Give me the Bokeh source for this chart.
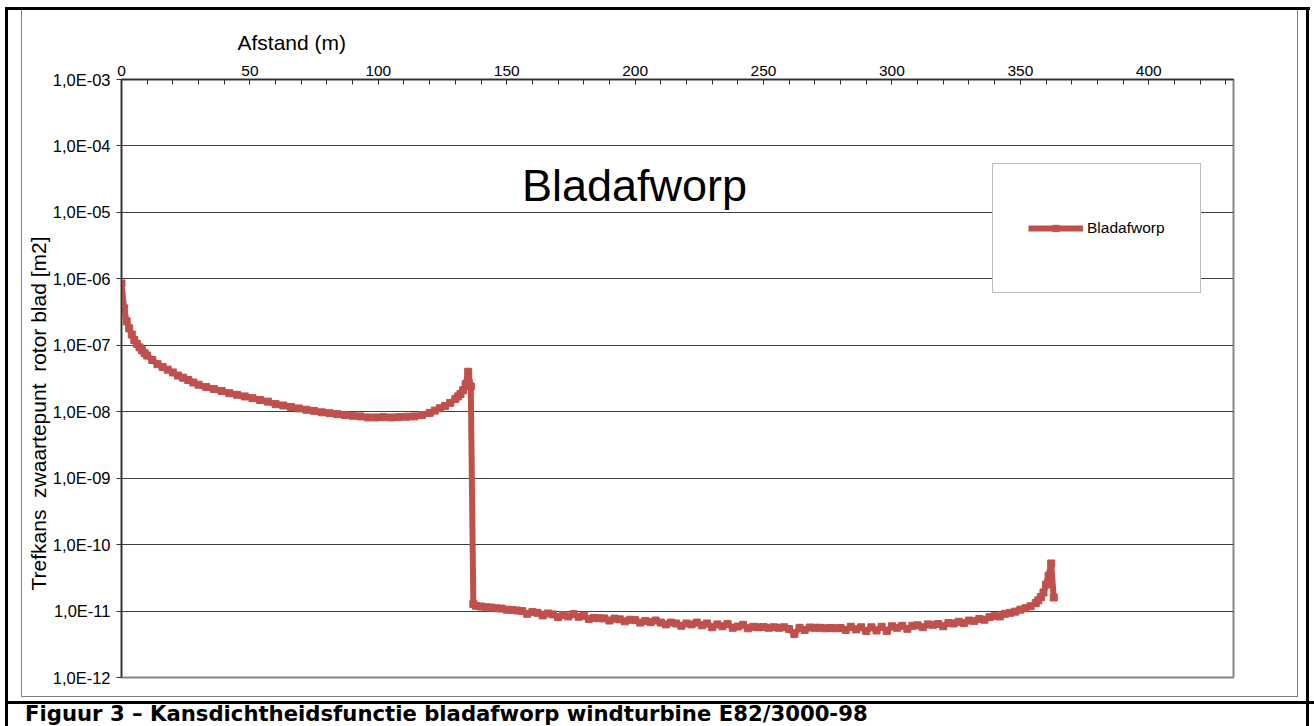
from bokeh.plotting import figure
from bokeh.layouts import column
from bokeh.models import (Range1d, FixedTicker, SingleIntervalTicker, Label, Title, Div,
                          Legend, LegendItem, ColumnDataSource)
from bokeh.embed import file_html
from bokeh.resources import INLINE

# ---------------- data ----------------
afstand = [0, 1, 2, 3, 4, 5, 6, 7, 8, 9, 10, 12, 14, 16, 18, 20, 22, 24, 26, 28, 30,
           33, 36, 39, 42, 45, 48, 51, 54, 57, 60, 63, 66, 69, 72, 75, 78, 81, 84, 87,
           90, 93, 96, 99, 102, 105, 108, 111, 114, 117, 120, 122, 124, 126, 128, 130,
           131, 132, 133, 134, 135, 136,
           137, 138, 140, 142, 144, 146, 148, 150, 152, 154, 156, 158, 160, 162, 164,
           166, 168, 170, 172, 174, 176, 178, 180, 182, 184, 186, 188, 190, 192, 194,
           196, 198, 200, 202, 204, 206, 208, 210, 212, 214, 216, 218, 220, 222, 224,
           226, 228, 230, 232, 234, 236, 238, 240, 242, 244, 246, 248, 250, 252, 254,
           256, 258, 260, 262, 264, 266, 268, 270, 272, 274, 276, 278, 280, 282, 284,
           286, 288, 290, 292, 294, 296, 298, 300, 302, 304, 306, 308, 310, 312, 314,
           316, 318, 320, 322, 324, 326, 328, 330, 332, 334, 336, 338, 340, 342, 344,
           346, 348, 350, 352, 354, 356, 357, 358, 359, 360, 361, 362, 363]

trefkans = [8.5e-7, 3.6e-7, 2.3e-7, 1.8e-7, 1.45e-7, 1.2e-7, 1.05e-7, 9.3e-8, 8.4e-8, 7.6e-8,
            7.0e-8, 6.0e-8, 5.2e-8, 4.7e-8, 4.3e-8, 3.9e-8, 3.5e-8, 3.25e-8, 3.0e-8, 2.75e-8,
            2.55e-8, 2.35e-8, 2.2e-8, 2.05e-8, 1.9e-8, 1.8e-8, 1.7e-8, 1.6e-8, 1.5e-8, 1.42e-8,
            1.3e-8, 1.24e-8, 1.18e-8, 1.12e-8, 1.07e-8, 1.03e-8, 9.8e-9, 9.5e-9, 9.2e-9, 8.9e-9,
            8.7e-9, 8.5e-9, 8.2e-9, 8.2e-9, 8.3e-9, 8.2e-9, 8.3e-9, 8.4e-9, 8.5e-9, 8.9e-9,
            9.6e-9, 1.04e-8, 1.13e-8, 1.22e-8, 1.36e-8, 1.55e-8,
            1.7e-8, 1.85e-8, 2.1e-8, 2.6e-8, 4.0e-8, 2.4e-8,
            1.28e-11, 1.20e-11, 1.17e-11, 1.14e-11, 1.13e-11, 1.10e-11, 1.09e-11, 1.05e-11,
            1.04e-11, 1.02e-11, 1.00e-11, 9.1e-12, 9.7e-12, 9.4e-12, 8.6e-12,
            9.2e-12, 8.9e-12, 8.1e-12, 8.7e-12, 8.3e-12, 9.0e-12, 8.2e-12, 8.5e-12, 7.6e-12,
            7.9e-12, 7.8e-12, 7.75e-12, 7.2e-12, 7.7e-12, 7.5e-12,
            7.0e-12, 7.4e-12, 7.3e-12, 6.7e-12, 7.1e-12, 6.8e-12, 7.2e-12, 6.7e-12, 6.3e-12,
            6.7e-12, 6.5e-12, 6.0e-12, 6.5e-12, 6.3e-12, 6.7e-12,
            6.1e-12, 6.5e-12, 5.7e-12, 6.3e-12, 5.9e-12, 6.4e-12, 5.6e-12, 5.85e-12, 6.2e-12,
            5.5e-12, 5.8e-12, 5.7e-12, 5.75e-12, 5.6e-12, 5.7e-12,
            5.6e-12, 5.7e-12, 5.35e-12, 4.5e-12, 5.6e-12, 5.2e-12, 5.65e-12, 5.6e-12, 5.6e-12,
            5.5e-12, 5.55e-12, 5.5e-12, 5.55e-12, 5.2e-12, 5.8e-12,
            5.3e-12, 5.7e-12, 5.0e-12, 5.7e-12, 5.1e-12, 5.8e-12, 5.0e-12, 5.9e-12, 5.6e-12,
            6.0e-12, 5.4e-12, 6.0e-12, 6.1e-12, 5.7e-12, 6.3e-12,
            6.2e-12, 6.4e-12, 5.9e-12, 6.6e-12, 6.5e-12, 6.9e-12, 6.6e-12, 7.2e-12, 7.1e-12,
            7.6e-12, 7.4e-12, 8.1e-12, 8.4e-12, 8.3e-12, 9.1e-12,
            9.4e-12, 9.8e-12, 1.05e-11, 1.1e-11, 1.18e-11, 1.32e-11, 1.45e-11, 1.62e-11,
            1.9e-11, 2.5e-11, 3.4e-11, 5.2e-11, 1.6e-11]

serie_naam = "Bladafworp"
y_ticks = [1e-12, 1e-11, 1e-10, 1e-9, 1e-8, 1e-7, 1e-6, 1e-5, 1e-4, 1e-3]
y_tick_labels = ["1,0E-12", "1,0E-11", "1,0E-10", "1,0E-09", "1,0E-08",
                 "1,0E-07", "1,0E-06", "1,0E-05", "1,0E-04", "1,0E-03"]

titel = "Bladafworp"
x_titel = "Afstand (m)"
# double spaces as in the original (a no-break space keeps them from collapsing in SVG)
y_titel = "Trefkans\u00a0 zwaartepunt\u00a0 rotor blad [m2]"
bijschrift = "Figuur 3 \u2013 Kansdichtheidsfunctie bladafworp windturbine E82/3000-98"

# ---------------- layout (page pixels; page origin = canvas origin) ----------------
RED = "#C0504D"
FONT = "Liberation Sans"
W = 1314
H_FIG = 701
H_CAP = 726 - H_FIG
FL, FR, FT, FB = 121, 1233, 79, 677   # frame edges


def rect(x, y, w, h, color):
    return ("linear-gradient(%s,%s)" % (color, color), "%gpx %gpx" % (w, h), "%gpx %gpx" % (x, y))


def bg_styles(rects):
    return {"background-image": ", ".join(r[0] for r in rects),
            "background-size": ", ".join(r[1] for r in rects),
            "background-position": ", ".join(r[2] for r in rects),
            "background-repeat": "no-repeat"}


p = figure(width=W, height=H_FIG, output_backend="svg", toolbar_location=None, title=None,
           x_range=Range1d(0, 433), y_range=Range1d(1e-12, 1e-3), y_axis_type="log",
           x_axis_location="above",
           min_border_left=FL, min_border_right=W - FR,
           min_border_top=FT, min_border_bottom=H_FIG - FB)
p.background_fill_color = "white"
p.border_fill_color = None
p.outline_line_color = "#868686"
p.outline_line_width = 2

# document table lines (thick black) and chart-area border (thin grey), behind the canvas
p.styles = bg_styles([
    rect(5, 7, 1305, 3, "#000"),          # top
    rect(5, 7, 3, H_FIG - 7, "#000"),     # left
    rect(1306, 7, 3, H_FIG - 7, "#000"),  # right
    rect(21, 10, 1, 687, "#7f7f7f"),
    rect(1297, 10, 1, 687, "#7f7f7f"),
    rect(21, 696, 1277, 1, "#7f7f7f"),
])

src = ColumnDataSource(dict(x=afstand, y=trefkans))
ln = p.line("x", "y", source=src, line_color=RED, line_width=6, line_join="round")
sc = p.scatter("x", "y", source=src, marker="square", size=7, fill_color=RED, line_color=RED)

# x axis (top)
xa = p.xaxis[0]
xa.ticker = SingleIntervalTicker(interval=50, num_minor_ticks=5)
xa.major_tick_in = 5
xa.major_tick_out = 0
xa.minor_tick_in = 5
xa.minor_tick_out = 0
xa.axis_line_color = "#303030"
xa.axis_line_width = 1.5
xa.major_tick_line_color = "#303030"
xa.minor_tick_line_color = "#303030"
xa.major_label_text_font = FONT
xa.major_label_text_font_size = "15.5px"
xa.major_label_text_color = "black"
xa.major_label_standoff = 4

# y axis (left, log)
ya = p.yaxis[0]
ya.ticker = FixedTicker(ticks=y_ticks)
ya.major_label_overrides = dict(zip(y_ticks, y_tick_labels))
ya.major_tick_in = 0
ya.major_tick_out = 5
ya.minor_tick_line_color = None
ya.axis_line_color = "#303030"
ya.axis_line_width = 1.5
ya.major_tick_line_color = "#303030"
ya.major_label_text_font = FONT
ya.major_label_text_font_size = "16.5px"
ya.major_label_text_color = "black"
ya.major_label_standoff = 6

p.xgrid.visible = False
p.ygrid.grid_line_color = "#404040"
p.ygrid.grid_line_width = 1

# axis titles as side-panel titles (placed like the reference)
p.add_layout(Title(text=x_titel, align="left", offset=237 - FL, standoff=17,
                   text_font=FONT, text_font_size="21px", text_font_style="normal",
                   text_color="black"), "above")
p.add_layout(Title(text=y_titel, align="left", offset=FB - 590, standoff=0,
                   text_font=FONT, text_font_size="21px", text_font_style="normal",
                   text_color="black"), "left")

# legend
legend = Legend(items=[LegendItem(label=serie_naam, renderers=[ln, sc])],
                location=(992 - FL, FB - 293), padding=35, spacing=0, margin=0,
                glyph_width=55, glyph_height=16, label_height=58, label_standoff=4,
                border_line_color="#7a7a7a", border_line_width=1,
                background_fill_color="white", background_fill_alpha=1.0,
                label_text_font=FONT, label_text_font_size="15.5px", label_text_color="black")
p.add_layout(legend)

# chart title inside the plot area
p.add_layout(Label(x=634 - FL, y=FB - 185, x_units="screen", y_units="screen", text=titel,
                   text_align="center", text_baseline="alphabetic",
                   text_font=FONT, text_font_size="45px", text_color="black"))

# caption below the chart (with the thick table line above it)
cap_styles = bg_styles([rect(5, 0, 1309, 3, "#000"),
                        rect(5, 0, 3, H_CAP, "#000"),
                        rect(1306, 0, 3, H_CAP, "#000")])
cap_styles.update({"font-family": "'DejaVu Sans'", "font-weight": "bold",
                   "font-size": "21.2px", "line-height": "%dpx" % H_CAP,
                   "text-indent": "25px", "white-space": "nowrap", "color": "black"})
cap = Div(text=bijschrift, width=W, height=H_CAP, margin=0, styles=cap_styles)

layout = column(p, cap, spacing=0, margin=0)

open("out.html", "w").write(file_html(layout, INLINE))
